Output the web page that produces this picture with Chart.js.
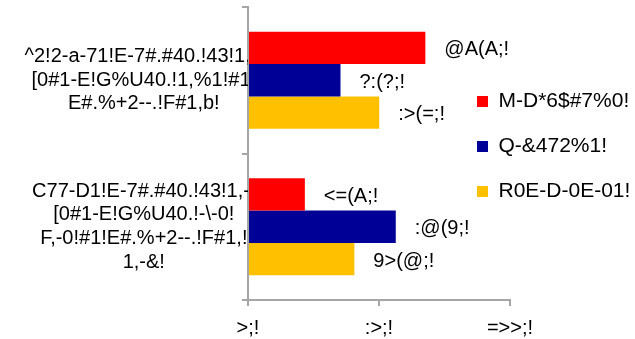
<!DOCTYPE html>
<html><head><meta charset="utf-8">
<script src="https://cdn.jsdelivr.net/npm/chart.js@4"></script>
<style>html,body{margin:0;padding:0;background:#fff}#wrap{width:635px;height:339px}</style>
</head><body><div id="wrap"><canvas id="c" width="635" height="339"></canvas></div>
<script>
const categories = [
  ["^2!2-a-71!E-7#.#40.!43!1,-!", "[0#1-E!G%U40.!1,%1!#1!", "E#.%+2--.!F#1,b!"],
  ["C77-D1!E-7#.#40.!43!1,-!", "[0#1-E!G%U40.!-\\-0!", "F,-0!#1!E#.%+2--.!F#1,!", "1,-&!"]
];
const seriesNames = ["M-D*6$#7%0!", "Q-&472%1!", "R0E-D-0E-01!"];
const redValues = [67.7, 21.7];
const blueValues = [35.3, 56.4];
const yellowValues = [50.1, 40.6];
const redLabels = ["@A(A;!", "<=(A;!"];
const blueLabels = ["?:(?;!", ":@(9;!"];
const yellowLabels = [":>(=;!", "9>(@;!"];
const tickValues = [0, 50, 100];
const tickLabels = [">;!", ":>;!", "=>>;!"];

const FONT = "'Liberation Sans', Arial, sans-serif";
const AXIS = '#a6a6a6';
Chart.defaults.font.family = FONT;
Chart.defaults.color = '#000';

const valueLabelPlugin = {
  id: 'valueLabels',
  afterDatasetsDraw(chart) {
    const ctx = chart.ctx;
    ctx.save();
    ctx.font = '20px ' + FONT;
    ctx.fillStyle = '#000';
    ctx.textBaseline = 'middle';
    ctx.textAlign = 'left';
    chart.data.datasets.forEach((ds, i) => {
      const meta = chart.getDatasetMeta(i);
      meta.data.forEach((bar, j) => {
        ctx.fillText(ds.valueLabels[j], bar.x + 19, bar.y + 2);
      });
    });
    ctx.restore();
  }
};
const legendPlacePlugin = {
  id: 'legendPlace',
  beforeDraw(chart) {
    const lg = chart.legend;
    if (!lg) return;
    lg.left = 453; lg.right = 635; lg.width = 182;
    lg.top = 67; lg.bottom = 339; lg.height = 272;
  }
};

new Chart(document.getElementById('c'), {
  type: 'bar',
  data: {
    labels: categories,
    datasets: [
      { label: seriesNames[0], data: redValues, valueLabels: redLabels, backgroundColor: '#ff0000' },
      { label: seriesNames[1], data: blueValues, valueLabels: blueLabels, backgroundColor: '#000096' },
      { label: seriesNames[2], data: yellowValues, valueLabels: yellowLabels, backgroundColor: '#ffc000' }
    ]
  },
  options: {
    indexAxis: 'y',
    responsive: false,
    animation: false,
    devicePixelRatio: 1,
    categoryPercentage: 0.662,
    barPercentage: 1,
    layout: { padding: { top: 7, left: 0, right: 0, bottom: 0 } },
    scales: {
      x: {
        type: 'linear', min: 0, max: 100,
        afterBuildTicks: s => { s.ticks = tickValues.map(v => ({ value: v })); },
        ticks: {
          callback: (v) => { const i = tickValues.indexOf(v); return i >= 0 ? tickLabels[i] : ''; },
          font: { size: 20 }, color: '#000', padding: 10, maxRotation: 0, autoSkip: false
        },
        grid: { drawOnChartArea: false, drawTicks: true, tickLength: 6, color: AXIS, lineWidth: 2 },
        border: { display: true, color: AXIS, width: 2 },
        afterFit: s => { s.height = 39; s.paddingLeft = 0; s.paddingRight = 0; }
      },
      y: {
        type: 'category', offset: true, z: 1,
        grid: { offset: true, drawOnChartArea: false, drawTicks: true, tickLength: 6, color: AXIS, lineWidth: 2 },
        border: { display: true, color: AXIS, width: 2 },
        ticks: { crossAlign: 'center', padding: -21, font: { size: 20, lineHeight: 1.18 }, color: '#000', autoSkip: false },
        afterFit: s => { s.width = 248; s.paddingTop = 0; s.paddingBottom = 0; }
      }
    },
    plugins: {
      legend: {
        position: 'right', align: 'start', maxWidth: 125,
        labels: { boxWidth: 11, boxHeight: 11, padding: 24, font: { size: 21 }, color: '#000' }
      },
      tooltip: { enabled: false }
    }
  },
  plugins: [valueLabelPlugin, legendPlacePlugin]
});
</script>
</body></html>
